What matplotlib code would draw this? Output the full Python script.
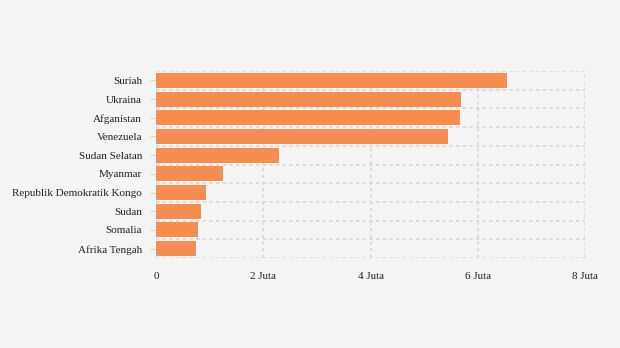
import numpy as np
import matplotlib.pyplot as plt

negara = ['Suriah', 'Ukraina', 'Afganistan', 'Venezuela', 'Sudan Selatan', 'Myanmar',
          'Republik Demokratik Kongo', 'Sudan', 'Somalia', 'Afrika Tengah']
pengungsi = [6.55, 5.69, 5.66, 5.45, 2.29, 1.25, 0.93, 0.84, 0.78, 0.75]  # juta
xticks = [0, 2, 4, 6, 8]
xlabels = ['0', '2 Juta', '4 Juta', '6 Juta', '8 Juta']

plt.rcParams['font.family'] = ['Liberation Serif', 'DejaVu Serif']

fig = plt.figure(figsize=(6.2, 3.48), dpi=100, facecolor='#f4f4f4')
ax = fig.add_axes([156/620, 1 - 258/348, (585 - 156)/620, (258 - 71)/348])
ax.set_facecolor('#f4f4f4')

y = np.arange(len(negara))
ax.barh(y, pengungsi, height=0.8, color='#f58d50', zorder=3)

ax.set_ylim(len(negara) - 0.5, -0.5)
ax.set_xlim(0, 8)
ax.set_yticks(y)
ax.set_yticklabels(negara, fontsize=8, color='#222222', va='center_baseline')
ax.set_yticks(np.arange(len(negara) + 1) - 0.5, minor=True)
ax.set_xticks(xticks)
ax.set_xticklabels(xlabels, fontsize=8, color='#222222')

ax.tick_params(axis='y', which='major', length=4, color='#d8d8d8', pad=6)
ax.tick_params(axis='y', which='minor', length=0)
ax.tick_params(axis='x', length=0, pad=10)

ax.grid(axis='x', which='major', linestyle=(0, (2, 2)), color='#d8d8d8', linewidth=1.2, zorder=0)
ax.grid(axis='y', which='minor', linestyle=(0, (2, 2)), color='#d8d8d8', linewidth=1.2, zorder=0)
for s in ax.spines.values():
    s.set_visible(False)

fig.savefig('out.png', dpi=100, facecolor=fig.get_facecolor())
